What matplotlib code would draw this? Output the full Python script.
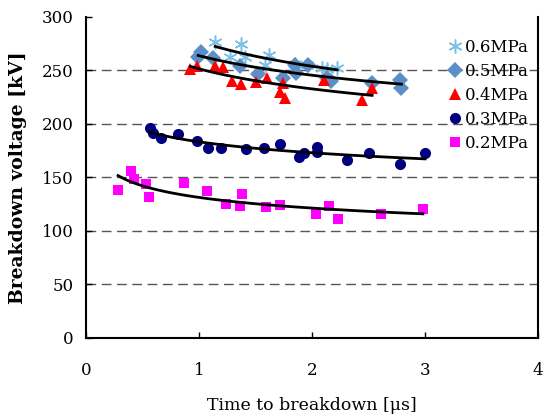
import numpy as np
import matplotlib
matplotlib.use("Agg")
import matplotlib.pyplot as plt

# 0.2 MPa
t02 = [0.28, 0.39, 0.42, 0.53, 0.55, 0.86, 1.07, 1.24, 1.38, 1.36, 1.59, 1.71, 2.03, 2.15, 2.23, 2.61, 2.98]
v02 = [138, 156, 148, 144, 132, 145, 137, 125, 134, 123, 122, 124, 116, 123, 111, 116, 120]
# 0.3 MPa
t03 = [0.56, 0.59, 0.66, 0.81, 0.98, 1.08, 1.19, 1.41, 1.57, 1.71, 1.88, 1.93, 2.04, 2.04, 2.31, 2.50, 2.78, 3.00]
v03 = [196, 191, 187, 190, 184, 177, 177, 176, 177, 181, 169, 173, 178, 174, 166, 173, 162, 173]
# 0.4 MPa
t04 = [0.92, 0.98, 1.14, 1.21, 1.29, 1.37, 1.50, 1.60, 1.71, 1.76, 1.74, 2.10, 2.44, 2.53]
v04 = [251, 254, 254, 253, 240, 237, 239, 243, 230, 224, 238, 241, 222, 233]
# 0.5 MPa
t05 = [1.01, 0.99, 1.12, 1.36, 1.52, 1.74, 1.85, 1.96, 1.86, 2.13, 2.17, 2.53, 2.78, 2.79]
v05 = [267, 262, 261, 254, 246, 243, 255, 255, 247, 243, 240, 238, 241, 233]
# 0.6 MPa
t06 = [1.14, 1.27, 1.37, 1.40, 1.58, 1.62, 1.85, 1.95, 2.09, 2.13, 2.22]
v06 = [276, 262, 274, 262, 255, 264, 256, 255, 252, 251, 252]

labels = ["0.6MPa", "0.5MPa", "0.4MPa", "0.3MPa", "0.2MPa"]
xticks = [0, 1, 2, 3, 4]
yticks = [0, 50, 100, 150, 200, 250, 300]

plt.rcParams['font.family'] = ['DejaVu Serif']

fig = plt.figure(figsize=(5.44, 4.16), dpi=100)
ax = fig.add_axes([0.159, 0.1875, 0.830, 0.7725])

for y in yticks[1:-1]:
    ax.axhline(y, color='#555555', lw=1.0, dashes=(7, 4), zorder=0)

series = [
    (t06, v06, dict(marker=(6, 2, 0), color='#7cc0e6', ms=10, mew=1.1, mfc='none')),
    (t05, v05, dict(marker='D', color='#5b8fc7', ms=8, mew=0)),
    (t04, v04, dict(marker='^', color='#ff0000', ms=8, mew=0)),
    (t03, v03, dict(marker='o', color='#000080', ms=8, mew=0)),
    (t02, v02, dict(marker='s', color='#ff00ff', ms=7.5, mew=0)),
]

handles = []
for (t, v, st), lab in zip(series, labels):
    h, = ax.plot(t, v, ls='none', label=lab, zorder=3, **st)
    handles.append(h)

for (t, v, st) in series:
    t = np.array(t); v = np.array(v)
    b, lna = np.polyfit(np.log(t), np.log(v), 1)
    tt = np.linspace(t.min(), t.max(), 100)
    ax.plot(tt, np.exp(lna) * tt ** b, color='black', lw=2.0, zorder=4)

ax.set_xlim(0, 4)
ax.set_ylim(0, 300)
ax.set_xticks(xticks)
ax.set_yticks(yticks)
ax.tick_params(direction='in', length=4, width=1, labelsize=12, colors='black')
ax.tick_params(axis='x', pad=17)
ax.tick_params(axis='y', pad=9)
for s in ['left', 'bottom', 'right']:
    ax.spines[s].set_linewidth(1.5)
ax.spines['top'].set_visible(False)

ax.set_xlabel("Time to breakdown [μs]", fontsize=12.5, labelpad=13)
ax.set_ylabel("Breakdown voltage [kV]", fontsize=13.5, fontweight='bold', labelpad=11)

leg = ax.legend(handles=handles, loc='upper right', bbox_to_anchor=(0.995, 0.952), frameon=False,
                fontsize=12, handlelength=0.8, handletextpad=0.2, labelspacing=0.42,
                borderaxespad=0.0)

fig.savefig("out.png", dpi=100)
